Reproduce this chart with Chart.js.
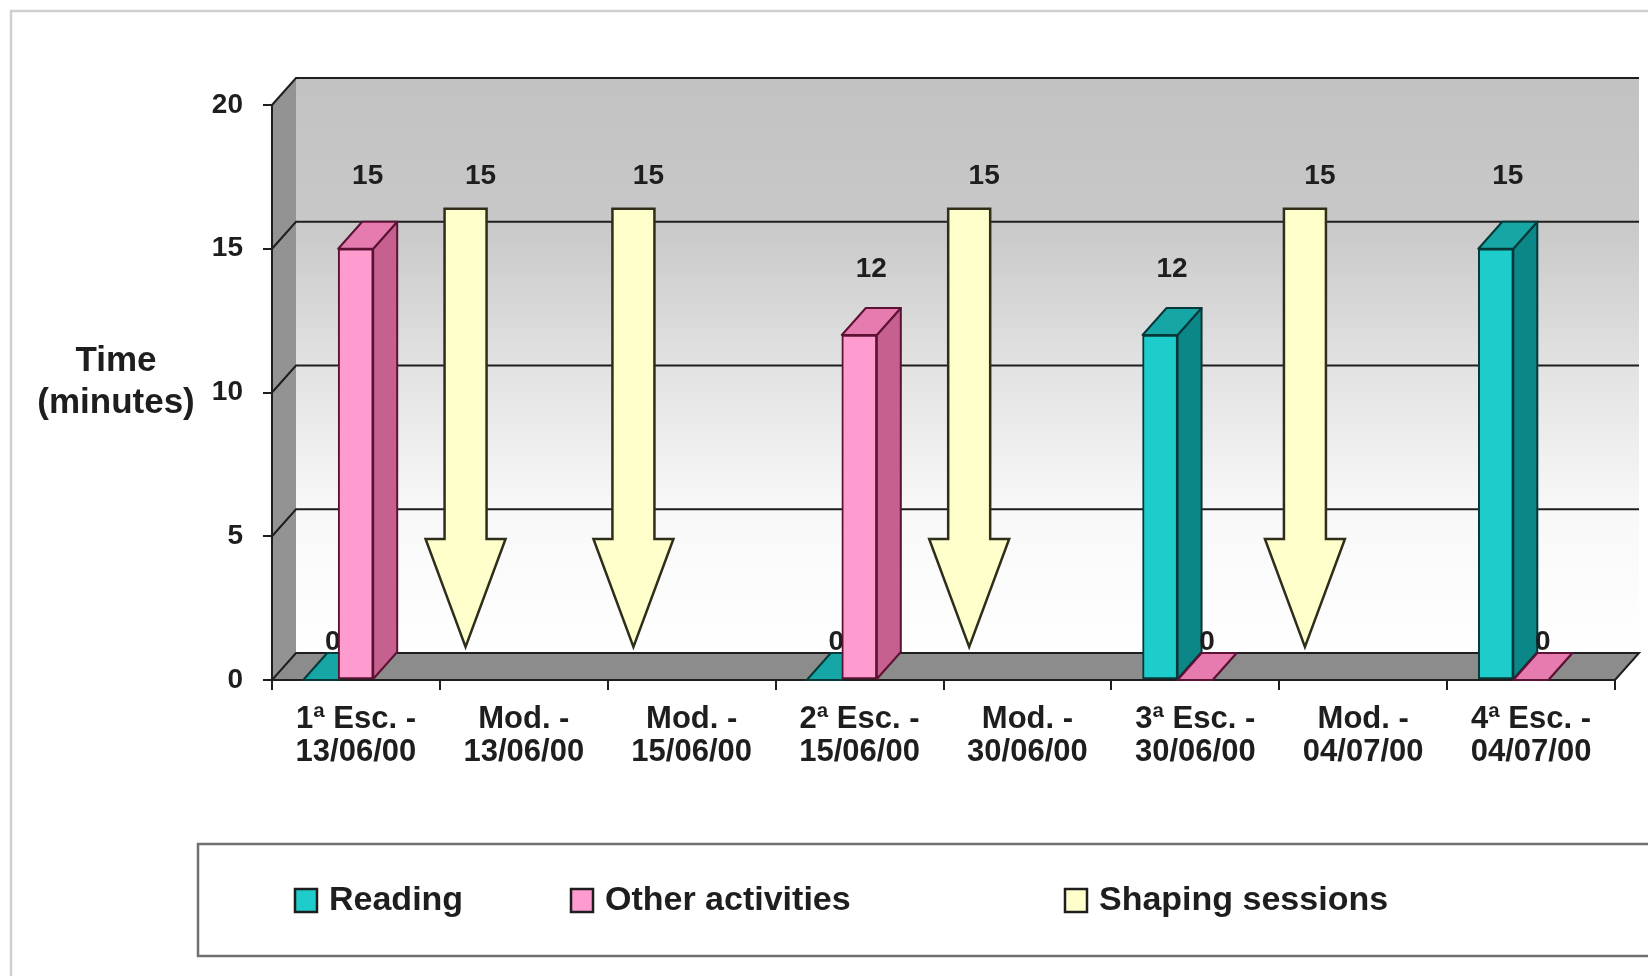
<!DOCTYPE html>
<html>
<head>
<meta charset="utf-8">
<script src="https://cdn.jsdelivr.net/npm/chart.js@4/dist/chart.umd.min.js"></script>
<style>
    html, body { margin: 0; padding: 0; background: #fff; }
    canvas { display: block; }
</style>
</head>
<body>
<canvas id="chartTiempo" width="1648" height="976"></canvas>
<script>
const categorias = [
    ['1ª Esc. -', '13/06/00'],
    ['Mod. -', '13/06/00'],
    ['Mod. -', '15/06/00'],
    ['2ª Esc. -', '15/06/00'],
    ['Mod. -', '30/06/00'],
    ['3ª Esc. -', '30/06/00'],
    ['Mod. -', '04/07/00'],
    ['4ª Esc. -', '04/07/00']
];
const lectura = [0, null, null, 0, null, 12, null, 15];
const otrasActividades = [15, null, null, 12, null, 0, null, 0];
const sesiones = [null, 15, 15, null, 15, null, 15, null];

const FUENTE = "'Liberation Sans', Arial, sans-serif";
const TINTA = '#1e1e1e';
const PROF_X = 24, PROF_Y = -27;   // profundidad de la vista 3D
const desplazamiento = 0.21;        // las columnas quedan a la izquierda del centro

const colores = {
    lectura: { frente: '#1fcccc', lado: '#0b8787', arriba: '#17a6a6', borde: '#073838' },
    otras: { frente: '#ff9ccf', lado: '#c5608f', arriba: '#e57bae', borde: '#5c1233' },
    sesiones: { frente: '#ffffcc', borde: '#2e2e1a' }
};

function poligono(ctx, puntos, relleno, trazo) {
    ctx.beginPath();
    puntos.forEach(([px, py], i) => i ? ctx.lineTo(px, py) : ctx.moveTo(px, py));
    ctx.closePath();
    if (relleno) { ctx.fillStyle = relleno; ctx.fill(); }
    if (trazo) { ctx.strokeStyle = trazo; ctx.stroke(); }
}

function etiqueta(ctx, y, valor, x) {
    const alto = y.getPixelForValue(valor) - 38 - 2.3 * valor;
    ctx.fillStyle = TINTA;
    ctx.font = `bold 28px ${FUENTE}`;
    ctx.textAlign = 'center';
    ctx.textBaseline = 'middle';
    ctx.fillText(String(valor), x, alto);
}

const vista3d = {
    id: 'vista3d',
    beforeDraw(chart) {
        const { ctx, chartArea: a, scales: { y } } = chart;
        const techo = y.getPixelForValue(y.max);
        const suelo = y.getPixelForValue(0);
        ctx.save();
        ctx.strokeStyle = '#cfcfcf';
        ctx.lineWidth = 2.5;
        ctx.strokeRect(11, 11, 3000, 3000);

        const grad = ctx.createLinearGradient(0, techo + PROF_Y, 0, suelo + PROF_Y);
        grad.addColorStop(0, '#c2c2c2');
        grad.addColorStop(0.25, '#c8c8c8');
        grad.addColorStop(0.5, '#e2e2e2');
        grad.addColorStop(0.75, '#f8f8f8');
        grad.addColorStop(1, '#ffffff');
        ctx.fillStyle = grad;
        ctx.fillRect(a.left + PROF_X, techo + PROF_Y, a.right - a.left, suelo - techo);

        ctx.lineWidth = 2;
        poligono(ctx, [[a.left, techo], [a.left + PROF_X, techo + PROF_Y],
            [a.left + PROF_X, suelo + PROF_Y], [a.left, suelo]], '#939393');
        poligono(ctx, [[a.left, suelo], [a.left + PROF_X, suelo + PROF_Y],
            [a.right + PROF_X, suelo + PROF_Y], [a.right, suelo]], '#8c8c8c', TINTA);

        ctx.strokeStyle = TINTA;
        y.ticks.filter(t => t.value > 0).forEach(t => {
            const py = y.getPixelForValue(t.value);
            ctx.beginPath();
            ctx.moveTo(a.left, py);
            ctx.lineTo(a.left + PROF_X, py + PROF_Y);
            ctx.lineTo(a.right + PROF_X, py + PROF_Y);
            ctx.stroke();
        });
        ctx.restore();
    },
    beforeDatasetsDraw(chart) {
        const { ctx, scales: { y } } = chart;
        const estilos = [colores.lectura, colores.otras];
        ctx.save();
        ctx.lineWidth = 2;
        ctx.lineJoin = 'round';
        [0, 1].forEach(d => {
            const c = estilos[d];
            chart.getDatasetMeta(d).data.forEach((el, i) => {
                if (chart.data.datasets[d].data[i].y == null) return;
                const { x, y: yTope, base, width } = el.getProps(['x', 'y', 'base', 'width'], true);
                const izq = x - width / 2, der = x + width / 2;
                const tope = Math.min(yTope, base), pie = Math.max(yTope, base);
                poligono(ctx, [[der, pie], [der, tope], [der + PROF_X, tope + PROF_Y],
                    [der + PROF_X, pie + PROF_Y]], c.lado, c.borde);
                poligono(ctx, [[izq, tope], [izq + PROF_X, tope + PROF_Y],
                    [der + PROF_X, tope + PROF_Y], [der, tope]], c.arriba, c.borde);
            });
        });
        [0, 1].forEach(d => {
            chart.getDatasetMeta(d).data.forEach((el, i) => {
                const v = chart.data.datasets[d].data[i].y;
                if (v == null) return;
                etiqueta(ctx, y, v, el.x + 12);
            });
        });
        ctx.restore();
    },
    afterDatasetsDraw(chart) {
        const { ctx, scales: { y } } = chart;
        ctx.save();
        ctx.lineWidth = 2.5;
        ctx.lineJoin = 'miter';
        chart.getDatasetMeta(2).data.forEach((el, i) => {
            const v = chart.data.datasets[2].data[i].y;
            if (v == null) return;
            const cx = el.x + PROF_X / 2;
            const arriba = el.y + PROF_Y - 13;
            const punta = el.base + PROF_Y - 5;
            const cabeza = punta - 108;
            poligono(ctx, [[cx - 21, arriba], [cx + 21, arriba], [cx + 21, cabeza], [cx + 40, cabeza],
                [cx, punta], [cx - 40, cabeza], [cx - 21, cabeza]], colores.sesiones.frente, colores.sesiones.borde);
            etiqueta(ctx, y, v, cx + 15);
        });
        ctx.restore();
    },
    afterDraw(chart) {
        const { ctx } = chart;
        ctx.save();
        ctx.fillStyle = TINTA;
        ctx.textAlign = 'center';
        ctx.textBaseline = 'middle';
        ctx.font = `bold 35px ${FUENTE}`;
        ctx.fillText('Time', 116, 361);
        ctx.fillText('(minutes)', 116, 403);

        ctx.strokeStyle = '#707070';
        ctx.lineWidth = 2.5;
        ctx.strokeRect(198, 844, 1600, 112);
        const posiciones = [295, 571, 1065];
        const estilos = [colores.lectura, colores.otras, colores.sesiones];
        ctx.textAlign = 'left';
        ctx.font = `bold 34px ${FUENTE}`;
        chart.data.datasets.forEach((ds, i) => {
            const x = posiciones[i];
            ctx.fillStyle = estilos[i].frente;
            ctx.fillRect(x, 889, 22, 23);
            ctx.strokeStyle = TINTA;
            ctx.lineWidth = 2.5;
            ctx.strokeRect(x, 889, 22, 23);
            ctx.fillStyle = TINTA;
            ctx.fillText(ds.label, x + 34, 901);
        });
        ctx.restore();
    }
};

new Chart(document.getElementById('chartTiempo'), {
    type: 'bar',
    data: {
        labels: categorias,
        datasets: [{
            label: 'Reading',
            data: lectura.map((v, i) => ({ x: i, y: v })),
            xAxisID: 'xb',
            order: 1,
            backgroundColor: colores.lectura.frente,
            borderColor: colores.lectura.borde
        }, {
            label: 'Other activities',
            data: otrasActividades.map((v, i) => ({ x: i, y: v })),
            xAxisID: 'xb',
            order: 2,
            backgroundColor: colores.otras.frente,
            borderColor: colores.otras.borde
        }, {
            label: 'Shaping sessions',
            data: sesiones.map((v, i) => ({ x: i, y: v })),
            xAxisID: 'xb',
            order: 0,
            backgroundColor: 'rgba(0,0,0,0)',
            borderWidth: 0
        }]
    },
    options: {
        responsive: false,
        animation: false,
        devicePixelRatio: 1,
        layout: { padding: { top: 105, right: 33, left: 0, bottom: 0 } },
        datasets: { bar: { barThickness: 35, borderWidth: 2, borderSkipped: false } },
        plugins: { legend: { display: false }, tooltip: { enabled: false } },
        scales: {
            x: {
                type: 'category',
                offset: true,
                grid: { drawOnChartArea: false, offset: true, tickLength: 10, color: TINTA, lineWidth: 2 },
                border: { color: TINTA, width: 2 },
                ticks: {
                    color: TINTA,
                    font: { family: FUENTE, size: 31, weight: 'bold', lineHeight: 1.07 },
                    padding: 13,
                    maxRotation: 0,
                    autoSkip: false
                },
                afterFit: s => { s.height = 296; }
            },
            xb: {
                type: 'linear',
                display: false,
                offset: false,
                grid: { offset: false },
                min: -0.5 + desplazamiento,
                max: categorias.length - 0.5 + desplazamiento
            },
            y: {
                min: 0,
                max: 20,
                ticks: {
                    stepSize: 5,
                    color: TINTA,
                    font: { family: FUENTE, size: 28, weight: 'bold' },
                    padding: 20
                },
                grid: { drawOnChartArea: false, tickLength: 9, color: TINTA, lineWidth: 2 },
                border: { color: TINTA, width: 2 },
                afterFit: s => { s.width = 272; }
            }
        }
    },
    plugins: [vista3d]
});
</script>
</body>
</html>
